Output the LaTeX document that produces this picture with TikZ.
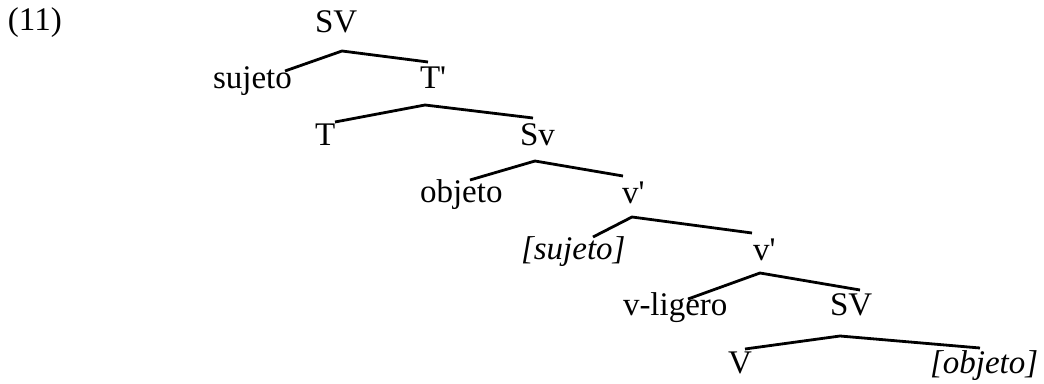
\documentclass[tikz,border=0pt]{standalone}
\usepackage{fontspec}
\setmainfont{Liberation Serif}
\begin{document}
\begin{tikzpicture}[x=1pt,y=-1pt,
  lbl/.style={anchor=base west,inner sep=0pt,outer sep=0pt,font=\fontsize{33}{40}\selectfont},
  ilbl/.style={lbl,font=\fontsize{33}{40}\selectfont\itshape},
  branch/.style={draw=black,line width=2.8pt,line join=miter,line cap=butt}]
\useasboundingbox (0,0) rectangle (1044,383);
\fill[white] (0,0) rectangle (1044,383);
% labels
\node[lbl] (ex) at (8,30) {(11)};
\node[lbl] (SVa) at (315,32) {SV};
\node[lbl] (suj) at (213,88) {sujeto};
\node[lbl] (Tbar) at (420,88) {T\textquotesingle};
\node[lbl] (T) at (315,145) {T};
\node[lbl] (Sv) at (520,145) {Sv};
\node[lbl] (obj) at (420,202) {objeto};
\node[lbl] (vbara) at (622,203) {v\textquotesingle};
\node[ilbl] (isuj) at (521,259) {[sujeto]};
\node[lbl] (vbarb) at (753,260) {v\textquotesingle};
\node[lbl] (vlig) at (623,315) {v-ligero};
\node[lbl] (SVb) at (830,315) {SV};
\node[lbl] (V) at (728,373) {V};
\node[ilbl] (iobj) at (930,373) {[objeto]};
% branch points
\coordinate (a1) at (342,51);  \coordinate (l1) at (285,71);  \coordinate (r1) at (428,62);
\coordinate (a2) at (425,105); \coordinate (l2) at (335,122); \coordinate (r2) at (533,118);
\coordinate (a3) at (535,161); \coordinate (l3) at (470,180); \coordinate (r3) at (623,176);
\coordinate (a4) at (632,217); \coordinate (l4) at (593,237); \coordinate (r4) at (752,233);
\coordinate (a5) at (760,273); \coordinate (l5) at (688,299); \coordinate (r5) at (860,290);
\coordinate (a6) at (840,336); \coordinate (l6) at (745,349); \coordinate (r6) at (980,348);
\draw[branch] (l1) -- (a1) -- (r1);
\draw[branch] (l2) -- (a2) -- (r2);
\draw[branch] (l3) -- (a3) -- (r3);
\draw[branch] (l4) -- (a4) -- (r4);
\draw[branch] (l5) -- (a5) -- (r5);
\draw[branch] (l6) -- (a6) -- (r6);
\end{tikzpicture}
\end{document}
